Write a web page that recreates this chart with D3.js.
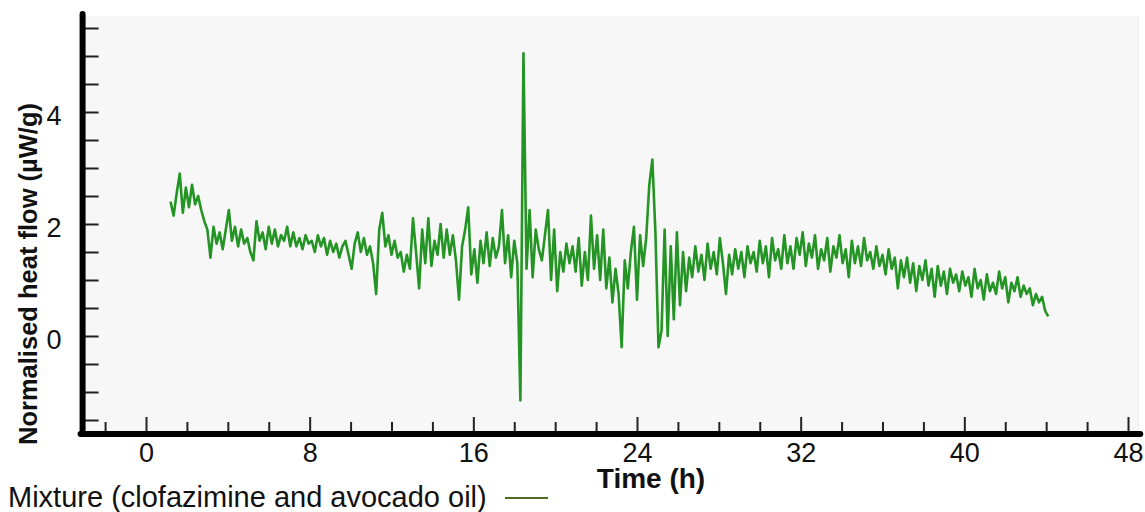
<!DOCTYPE html>
<html>
<head>
<meta charset="utf-8">
<script src="https://cdn.jsdelivr.net/npm/d3@7"></script>
<style>
  body { margin: 0; background: #fff; }
  text { font-family: "Liberation Sans", Arial, sans-serif; }
</style>
</head>
<body>
<div id="chart"></div>
<script>
// series: heat flow sampled every 0.15 h starting at 1.2 h
const timeStart = 1.2;
const timeStep = 0.15;
const heatFlow = [
  2.4, 2.15, 2.55, 2.9, 2.2, 2.65, 2.3, 2.7, 2.35, 2.5,
  2.25, 2.05, 1.9, 1.4, 1.95, 1.65, 1.85, 1.55, 1.9, 2.25,
  1.7, 1.95, 1.6, 1.9, 1.65, 1.75, 1.5, 1.35, 2.05, 1.7,
  1.85, 1.55, 1.95, 1.65, 1.9, 1.6, 1.8, 1.7, 1.95, 1.6,
  1.85, 1.6, 1.75, 1.55, 1.8, 1.65, 1.7, 1.5, 1.8, 1.6,
  1.75, 1.45, 1.7, 1.5, 1.65, 1.4, 1.6, 1.7, 1.45, 1.2,
  1.65, 1.85, 1.5, 1.75, 1.45, 1.6, 1.3, 0.75, 1.9, 2.2,
  1.6, 1.8, 1.45, 1.7, 1.4, 1.5, 1.15, 1.45, 1.2, 2.1,
  1.5, 0.85, 1.9, 1.3, 2.1, 1.25, 1.7, 1.45, 2.0, 1.4,
  1.9, 1.45, 1.8, 1.35, 0.65, 1.6, 1.9, 2.3, 1.1, 1.55,
  0.95, 1.7, 1.3, 1.85, 1.25, 1.75, 1.4, 1.6, 2.25, 1.3,
  1.8, 1.05, 1.7, 1.3, -1.15, 5.05, 1.2, 2.25, 1.05, 1.9,
  1.55, 1.35, 1.8, 2.25, 1.0, 1.9, 0.8, 1.5, 1.15, 1.65,
  1.3, 1.6, 1.15, 1.75, 0.9, 1.5, 1.0, 2.15, 1.2, 1.8,
  1.0, 1.9, 0.85, 1.4, 0.6, 1.2, 0.75, -0.2, 1.35, 0.85,
  1.5, 1.95, 0.65, 1.8, 1.25, 1.75, 2.7, 3.15, 1.85, -0.2,
  0.1, 1.9, 0.0, 1.6, 0.3, 1.85, 0.55, 1.5, 0.8, 1.4,
  1.05, 1.6, 1.15, 1.45, 1.0, 1.65, 1.2, 1.5, 1.1, 1.75,
  1.3, 0.75, 1.45, 1.1, 1.55, 1.2, 1.5, 1.05, 1.6, 1.3,
  1.5, 1.15, 1.7, 1.3, 1.6, 1.05, 1.75, 1.35, 1.55, 1.2,
  1.8, 1.3, 1.6, 1.2, 1.75, 1.45, 1.85, 1.25, 1.65, 1.4,
  1.8, 1.2, 1.55, 1.35, 1.75, 1.15, 1.6, 1.4, 1.8, 1.3,
  1.55, 1.05, 1.7, 1.3, 1.6, 1.25, 1.75, 1.35, 1.5, 1.2,
  1.6, 1.25, 1.45, 1.1, 1.55, 1.2, 1.4, 0.85, 1.35, 1.05,
  1.4, 0.95, 1.3, 0.8, 1.25, 1.0, 1.35, 0.9, 1.2, 0.7,
  1.25, 0.9, 1.15, 0.75, 1.2, 0.95, 1.1, 0.8, 1.15, 0.9,
  1.05, 0.7, 1.2, 0.85, 1.0, 0.65, 1.1, 0.8, 0.95, 0.75,
  1.15, 0.85, 1.05, 0.6, 0.95, 0.8, 1.05, 0.7, 0.9, 0.75,
  0.85, 0.55, 0.75, 0.6, 0.7, 0.45, 0.35
];

const xMajorTicks = [0, 8, 16, 24, 32, 40, 48];
const xMinorTicks = [-2, 2, 4, 6, 10, 12, 14, 18, 20, 22, 26, 28, 30, 34, 36, 38, 42, 44, 46];
const yTicks = [-1.5, -1, -0.5, 0, 0.5, 1, 1.5, 2, 2.5, 3, 3.5, 4, 4.5, 5, 5.5];
const yLabelTicks = [0, 2, 4];

const xTitle = "Time (h)";
const yTitle = "Normalised heat flow (\u00b5W/g)";
const seriesName = "Mixture (clofazimine and avocado oil)";

const width = 1145;
const height = 512;

const svg = d3.select("#chart")
    .append("svg")
    .attr("width", width)
    .attr("height", height);

// soft edge like the original raster
svg.append("defs").append("filter")
    .attr("id", "soft")
    .append("feGaussianBlur")
    .attr("stdDeviation", 0.55);

const x = d3.scaleLinear().domain([0, 48]).range([146, 1128]);
const y = d3.scaleLinear().domain([0, 4]).range([336, 112]);

const xLo = -3.1, xHi = 48.6;   // axis extent
const yLo = -1.75, yHi = 5.75;

// plot background
svg.append("rect")
    .attr("x", x(xLo) + 3)
    .attr("y", y(yHi) + 3)
    .attr("width", x(xHi) - x(xLo) - 5)
    .attr("height", y(yLo) - y(yHi) - 3)
    .attr("fill", "#f7f7f7")
    .attr("stroke", "#e2e2e2")
    .attr("stroke-dasharray", "2,2");

// data line
const pts = heatFlow.map((v, i) => [timeStart + i * timeStep, v]);
const line = d3.line()
    .x(d => x(d[0]))
    .y(d => y(d[1]));

svg.append("path")
    .datum(pts)
    .attr("d", line)
    .attr("fill", "none")
    .attr("stroke", "#008400")
    .attr("stroke-width", 2.6)
    .attr("stroke-linejoin", "round")
    .attr("opacity", 0.85)
    .attr("filter", "url(#soft)");

// x axis ticks (inward)
const xMinorAxis = svg.append("g")
    .attr("transform", `translate(0,${y(yLo)})`)
    .call(d3.axisBottom(x).tickValues(xMinorTicks).tickSize(-12).tickFormat(""));
const xMajorAxis = svg.append("g")
    .attr("transform", `translate(0,${y(yLo)})`)
    .call(d3.axisBottom(x).tickValues(xMajorTicks).tickSize(-17).tickPadding(9).tickFormat(d3.format("d")));

[xMinorAxis, xMajorAxis].forEach(g => {
    g.select(".domain").remove();
    g.selectAll("line").attr("stroke", "#222").attr("stroke-width", 2);
});
xMajorAxis.selectAll("text")
    .attr("font-size", "27px")
    .attr("fill", "#111")
    .style("font-family", "Liberation Sans, Arial, sans-serif");

// y axis ticks (inward)
const yAxis = svg.append("g")
    .attr("transform", `translate(${x(xLo)},0)`)
    .call(d3.axisLeft(y).tickValues(yTicks).tickSize(-16).tickPadding(21)
        .tickFormat(d => yLabelTicks.includes(d) ? d3.format("d")(d) : ""));
yAxis.select(".domain").remove();
yAxis.selectAll("line").attr("stroke", "#222").attr("stroke-width", 2);
yAxis.selectAll("text")
    .attr("font-size", "27px")
    .attr("fill", "#111")
    .attr("dy", "0.45em")
    .style("font-family", "Liberation Sans, Arial, sans-serif");

// thick axis lines
svg.append("line")
    .attr("x1", x(xLo)).attr("x2", x(xLo))
    .attr("y1", y(yHi)).attr("y2", y(yLo))
    .attr("stroke", "#000").attr("stroke-width", 6).attr("stroke-linecap", "round");
svg.append("line")
    .attr("x1", x(xLo) - 2).attr("x2", x(xHi))
    .attr("y1", y(yLo)).attr("y2", y(yLo))
    .attr("stroke", "#000").attr("stroke-width", 6).attr("stroke-linecap", "round");

// titles
svg.append("text")
    .attr("x", 651)
    .attr("y", 488)
    .attr("text-anchor", "middle")
    .attr("font-size", "28px")
    .attr("font-weight", "bold")
    .attr("fill", "#111")
    .text(xTitle);

svg.append("text")
    .attr("transform", "translate(37,274) rotate(-90)")
    .attr("text-anchor", "middle")
    .attr("font-size", "25.5px")
    .attr("font-weight", "bold")
    .attr("fill", "#111")
    .text(yTitle);

// legend
svg.append("text")
    .attr("x", 8)
    .attr("y", 507)
    .attr("font-size", "29px")
    .attr("fill", "#111")
    .text(seriesName);
svg.append("line")
    .attr("x1", 505).attr("x2", 548)
    .attr("y1", 498).attr("y2", 498)
    .attr("stroke", "#4f6b1f")
    .attr("stroke-width", 2);
</script>
</body>
</html>
